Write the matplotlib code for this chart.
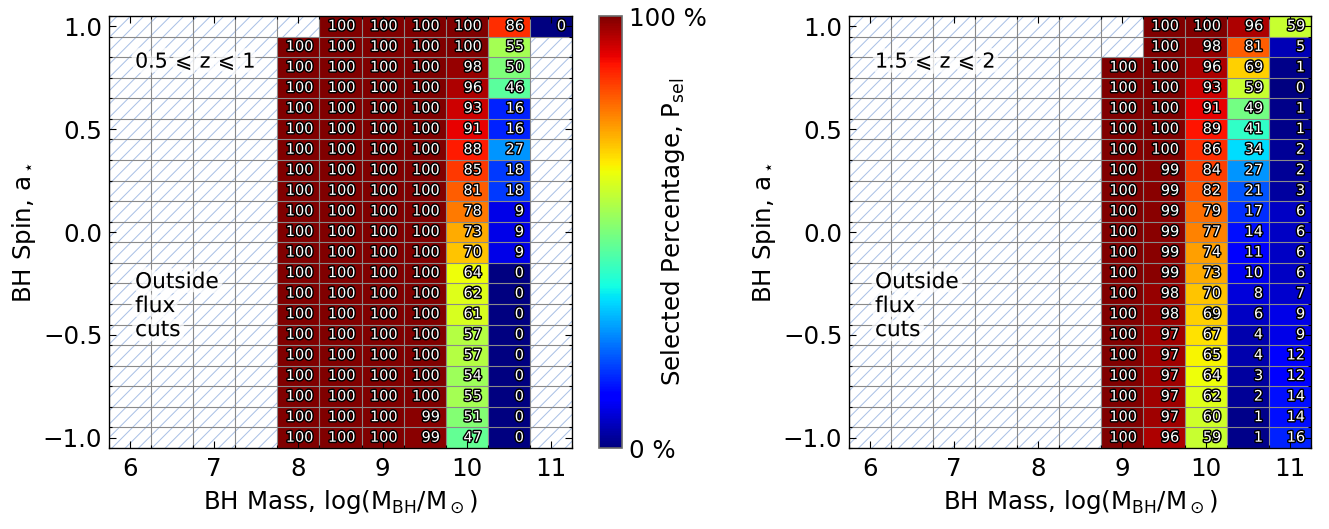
import numpy as np
import matplotlib
matplotlib.use('Agg')
import matplotlib.pyplot as plt
import matplotlib.patheffects as pe
from matplotlib.patches import Rectangle
from matplotlib.cm import ScalarMappable
from matplotlib.colors import Normalize

nan = np.nan

# grid of the two panels (cell centres)
mass = [6.0, 6.5, 7.0, 7.5, 8.0, 8.5, 9.0, 9.5, 10.0, 10.5, 11.0]
spin = [1.0, 0.9, 0.8, 0.7, 0.6, 0.5, 0.4, 0.3, 0.2, 0.1, 0.0,
        -0.1, -0.2, -0.3, -0.4, -0.5, -0.6, -0.7, -0.8, -0.9, -1.0]

# 0.5 <= z <= 1, columns log M = 8.0 ... 11.0, rows spin 1.0 ... -1.0
low_cols = [8.0, 8.5, 9.0, 9.5, 10.0, 10.5, 11.0]
low_vals = [
    [nan, 100, 100, 100, 100, 86, 0],
    [100, 100, 100, 100, 100, 55, nan],
    [100, 100, 100, 100, 98, 50, nan],
    [100, 100, 100, 100, 96, 46, nan],
    [100, 100, 100, 100, 93, 16, nan],
    [100, 100, 100, 100, 91, 16, nan],
    [100, 100, 100, 100, 88, 27, nan],
    [100, 100, 100, 100, 85, 18, nan],
    [100, 100, 100, 100, 81, 18, nan],
    [100, 100, 100, 100, 78, 9, nan],
    [100, 100, 100, 100, 73, 9, nan],
    [100, 100, 100, 100, 70, 9, nan],
    [100, 100, 100, 100, 64, 0, nan],
    [100, 100, 100, 100, 62, 0, nan],
    [100, 100, 100, 100, 61, 0, nan],
    [100, 100, 100, 100, 57, 0, nan],
    [100, 100, 100, 100, 57, 0, nan],
    [100, 100, 100, 100, 54, 0, nan],
    [100, 100, 100, 100, 55, 0, nan],
    [100, 100, 100, 99, 51, 0, nan],
    [100, 100, 100, 99, 47, 0, nan],
]

# 1.5 <= z <= 2, columns log M = 9.0 ... 11.0
high_cols = [9.0, 9.5, 10.0, 10.5, 11.0]
high_vals = [
    [nan, 100, 100, 96, 59],
    [nan, 100, 98, 81, 5],
    [100, 100, 96, 69, 1],
    [100, 100, 93, 59, 0],
    [100, 100, 91, 49, 1],
    [100, 100, 89, 41, 1],
    [100, 100, 86, 34, 2],
    [100, 99, 84, 27, 2],
    [100, 99, 82, 21, 3],
    [100, 99, 79, 17, 6],
    [100, 99, 77, 14, 6],
    [100, 99, 74, 11, 6],
    [100, 99, 73, 10, 6],
    [100, 98, 70, 8, 7],
    [100, 98, 69, 6, 9],
    [100, 97, 67, 4, 9],
    [100, 97, 65, 4, 12],
    [100, 97, 64, 3, 12],
    [100, 97, 62, 2, 14],
    [100, 97, 60, 1, 14],
    [100, 96, 59, 1, 16],
]

panel_labels = [r'$0.5\,\leqslant\,\mathrm{z}\,\leqslant\,1$',
                r'$1.5\,\leqslant\,\mathrm{z}\,\leqslant\,2$']

DPI = 80
W, H = 1329, 529
plt.rcParams['font.family'] = 'DejaVu Sans'
plt.rcParams['mathtext.fontset'] = 'dejavusans'
plt.rcParams['hatch.linewidth'] = 0.9
fig = plt.figure(figsize=(W / DPI, H / DPI), dpi=DPI)

def fr(x0, y0, x1, y1):
    return [x0 / W, 1 - y1 / H, (x1 - x0) / W, (y1 - y0) / H]

ax1 = fig.add_axes(fr(109, 16, 572, 448))
ax2 = fig.add_axes(fr(849, 16, 1311, 448))
cax = fig.add_axes(fr(599, 16, 622, 448))

cmap = plt.get_cmap('jet')
norm = Normalize(0, 100)
xedges = [m - 0.25 for m in mass] + [mass[-1] + 0.25]
yedges = [s - 0.05 for s in spin[::-1]] + [spin[0] + 0.05]
fs = 22

for ax, cols, vals, lab in [(ax1, low_cols, low_vals, panel_labels[0]),
                            (ax2, high_cols, high_vals, panel_labels[1])]:
    grid = np.full((len(spin), len(mass)), nan)
    for i, row in enumerate(vals):
        for j, v in enumerate(row):
            grid[i, mass.index(cols[j])] = v
    ax.add_patch(Rectangle((xedges[0], yedges[0]), xedges[-1] - xedges[0],
                           yedges[-1] - yedges[0], facecolor='white',
                           edgecolor='#a9c0e6', hatch='//', lw=0, zorder=0))
    ax.pcolormesh(xedges, yedges, np.ma.masked_invalid(grid[::-1]),
                  cmap=cmap, norm=norm, zorder=1)
    for i, s in enumerate(spin):
        for j, m in enumerate(mass):
            v = grid[i, j]
            if np.isnan(v):
                continue
            ax.text(m + 0.18, s, '%d' % v, ha='right', va='center',
                    fontsize=13, color='white', zorder=4,
                    path_effects=[pe.withStroke(linewidth=2.6, foreground='black')])
    ax.set_xlim(xedges[0], xedges[-1])
    ax.set_ylim(yedges[0], yedges[-1])
    ax.set_xticks([6, 7, 8, 9, 10, 11])
    ax.set_yticks([-1.0, -0.5, 0.0, 0.5, 1.0])
    ax.set_xticks(xedges, minor=True)
    ax.set_yticks(yedges, minor=True)
    ax.grid(which='minor', color='#8a8a8a', lw=1.0)
    ax.tick_params(which='both', direction='in', top=True, right=True,
                   labelsize=fs)
    ax.tick_params(which='major', length=6, width=1)
    ax.tick_params(which='minor', length=3, width=1)
    ax.tick_params(axis='x', pad=8)
    ax.tick_params(axis='y', pad=6)
    for sp in ax.spines.values():
        sp.set_linewidth(1.2)
        sp.set_zorder(5)
    ax.set_xlabel(r'BH Mass, log(M$_{\rm BH}$/M$_\odot$)', fontsize=fs, labelpad=6)
    ax.set_ylabel(r'BH Spin, a$_\star$', fontsize=fs, labelpad=4)
    glow = [pe.withStroke(linewidth=9, foreground='white', alpha=0.75)]
    ax.text(6.06, 0.83, lab, fontsize=18.5, ha='left', va='center', zorder=3,
            path_effects=glow)
    ax.text(6.06, -0.36, 'Outside\nflux\ncuts', fontsize=19.5, ha='left',
            va='center', zorder=3, linespacing=1.25, path_effects=glow)

cb = fig.colorbar(ScalarMappable(norm=norm, cmap=cmap), cax=cax, ticks=[0, 100])
cb.ax.set_yticklabels(['0 %', '100 %'])
cb.ax.tick_params(length=0, labelsize=fs, pad=6)
cb.outline.set_edgecolor('#6a6a6a')
cb.outline.set_linewidth(1.5)
cax.text(3.2, 0.5, r'Selected Percentage, P$_{\rm sel}$', rotation=90,
         ha='center', va='center', fontsize=fs, transform=cax.transAxes)

fig.savefig('out.png', dpi=DPI)
